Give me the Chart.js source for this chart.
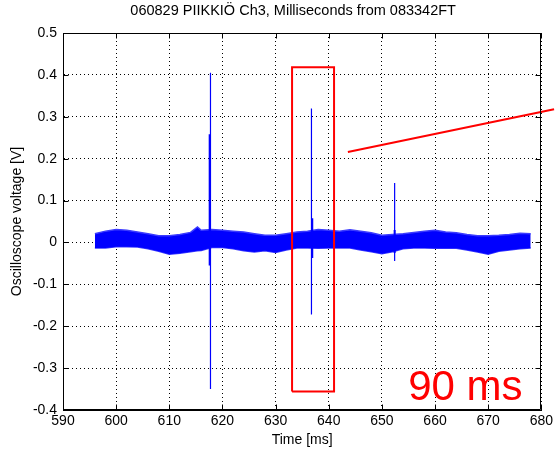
<!DOCTYPE html>
<html>
<head>
<meta charset="utf-8">
<script src="https://cdn.jsdelivr.net/npm/chart.js@4.4.0/dist/chart.umd.min.js"></script>
<style>
  html, body { margin: 0; padding: 0; background: #fff; }
  #wrap { width: 556px; height: 451px; }
</style>
</head>
<body>
<div id="wrap"><canvas id="myChart"></canvas></div>
<script>
// axis ticks
var xTicks = [590, 600, 610, 620, 630, 640, 650, 660, 670, 680];
var yTicks = [-0.4, -0.3, -0.2, -0.1, 0, 0.1, 0.2, 0.3, 0.4, 0.5];

var titleText = '060829 PIIKKIÖ Ch3, Milliseconds from 083342FT';

// noise band (upper / lower envelope), ms and V
var bandTime = [596, 598, 600, 602, 604, 606, 608, 610, 612, 614, 615.3, 616, 618, 620, 622, 624, 626, 628, 630, 632, 634, 636, 638, 640, 642, 644, 646, 648, 650, 652, 654, 656, 658, 660, 662, 664, 666, 668, 670, 672, 674, 676, 678];
var bandHigh = [0.021, 0.027, 0.031, 0.029, 0.025, 0.021, 0.016, 0.016, 0.019, 0.024, 0.037, 0.029, 0.031, 0.029, 0.027, 0.025, 0.021, 0.017, 0.017, 0.021, 0.025, 0.027, 0.031, 0.029, 0.027, 0.030, 0.027, 0.023, 0.017, 0.019, 0.021, 0.024, 0.027, 0.029, 0.025, 0.023, 0.019, 0.016, 0.016, 0.017, 0.019, 0.022, 0.021];
var bandLow = [-0.013, -0.013, -0.010, -0.010, -0.011, -0.015, -0.021, -0.028, -0.026, -0.022, -0.020, -0.019, -0.012, -0.012, -0.015, -0.020, -0.023, -0.020, -0.024, -0.018, -0.013, -0.013, -0.014, -0.013, -0.013, -0.013, -0.018, -0.022, -0.027, -0.022, -0.015, -0.013, -0.013, -0.014, -0.014, -0.014, -0.018, -0.023, -0.028, -0.021, -0.018, -0.015, -0.013];

// the discharge spikes
var spikeTime = [617.75, 636.75, 652.4];
var spikeHigh = [0.405, 0.32, 0.142];
var spikeLow = [-0.35, -0.172, -0.044];
var burstTime = [617.6, 636.9, 652.4];
var burstHigh = [0.258, 0.058, 0.03];
var burstLow = [-0.055, -0.037, -0.025];

// red marking
var boxTime = [633.1, 641.0];
var boxVolt = [-0.356, 0.418];
var pointerTime = [643.6, 682.4];
var pointerVolt = [0.216, 0.318];
var noteText = '90 ms';
var noteTime = 665.7;
var noteVolt = -0.376;

var FONT = "'Liberation Sans', Arial, sans-serif";
Chart.defaults.font.family = FONT;
Chart.defaults.font.size = 14;
Chart.defaults.color = '#000';

function pts(xs, ys) {
  return xs.map(function (x, i) { return {x: x, y: ys[i]}; });
}

var datasets = [];

// red box + pointer line, drawn on top
datasets.push({
  data: [
    {x: boxTime[0], y: boxVolt[0]}, {x: boxTime[0], y: boxVolt[1]},
    {x: boxTime[1], y: boxVolt[1]}, {x: boxTime[1], y: boxVolt[0]},
    {x: boxTime[0], y: boxVolt[0]}
  ],
  borderColor: '#ff0000', borderWidth: 2, pointRadius: 0, tension: 0, order: 0
});
datasets.push({
  data: pts(pointerTime, pointerVolt),
  borderColor: '#ff0000', borderWidth: 2, pointRadius: 0, clip: false, order: 0
});

// spikes
spikeTime.forEach(function (t, i) {
  datasets.push({
    data: [{x: t, y: spikeHigh[i]}, {x: t, y: spikeLow[i]}],
    borderColor: '#0000ff', borderWidth: 1.2, pointRadius: 0, order: 1
  });
  datasets.push({
    data: [{x: burstTime[i], y: burstHigh[i]}, {x: burstTime[i], y: burstLow[i]}],
    borderColor: '#0000ff', borderWidth: 2, pointRadius: 0, order: 1
  });
});

// noise band
datasets.push({
  data: pts(bandTime, bandHigh),
  borderColor: '#3a3aff', backgroundColor: '#0000ff', borderWidth: 1.5,
  pointRadius: 0, fill: '+1', order: 2
});
datasets.push({
  data: pts(bandTime, bandLow),
  borderColor: '#3a3aff', borderWidth: 1.5, pointRadius: 0, fill: false, order: 2
});

var matlabFrame = {
  id: 'matlabFrame',
  afterDatasetsDraw: function (chart) {
    var ctx = chart.ctx, xs = chart.scales.x, ys = chart.scales.y, a = chart.chartArea;
    ctx.save();
    ctx.fillStyle = '#ff0000';
    ctx.font = '42px ' + FONT;
    ctx.textAlign = 'center';
    ctx.textBaseline = 'alphabetic';
    ctx.fillText(noteText, xs.getPixelForValue(noteTime), ys.getPixelForValue(noteVolt));
    // title over the axes
    ctx.fillStyle = '#000';
    ctx.font = '14.5px ' + FONT;
    ctx.textBaseline = 'middle';
    ctx.fillText(titleText, (a.left + a.right) / 2 - 9, a.top - 22);
    ctx.restore();
  },
  afterDraw: function (chart) {
    var ctx = chart.ctx, a = chart.chartArea, xs = chart.scales.x, ys = chart.scales.y;
    var L = Math.round(a.left) + 0.5, R = Math.round(a.right) - 0.5;
    var T = Math.round(a.top) + 0.5, B = Math.round(a.bottom) - 0.5;
    ctx.save();
    ctx.strokeStyle = '#000';
    ctx.lineWidth = 1;
    ctx.beginPath();
    ctx.rect(L, T, R - L, B - T);
    xTicks.forEach(function (v) {
      var px = Math.round(xs.getPixelForValue(v)) + 0.5;
      ctx.moveTo(px, B); ctx.lineTo(px, B - 5);
      ctx.moveTo(px, T); ctx.lineTo(px, T + 5);
    });
    yTicks.forEach(function (v) {
      var py = Math.round(ys.getPixelForValue(v)) + 0.5;
      ctx.moveTo(L, py); ctx.lineTo(L + 5, py);
      ctx.moveTo(R, py); ctx.lineTo(R - 5, py);
    });
    ctx.stroke();
    ctx.restore();
  }
};

var ctx = document.getElementById('myChart').getContext('2d');
var myChart = new Chart(ctx, {
  type: 'line',
  data: { datasets: datasets },
  options: {
    responsive: true,
    maintainAspectRatio: false,
    animation: false,
    parsing: false,
    layout: { padding: { left: 0, right: 12, top: 33, bottom: 0 } },
    plugins: {
      legend: { display: false },
      tooltip: { enabled: false },
      title: { display: false }
    },
    scales: {
      x: {
        type: 'linear',
        min: 590, max: 680,
        afterBuildTicks: function (s) { s.ticks = xTicks.map(function (v) { return {value: v}; }); },
        afterFit: function (s) { s.height = 41; },
        ticks: { padding: 3, maxRotation: 0, autoSkip: false, callback: function (v) { return String(v); } },
        grid: { color: '#000', lineWidth: 1, drawTicks: false },
        border: { display: true, color: '#000', dash: [1, 3] },
        title: { display: true, text: 'Time [ms]', padding: { top: 0, bottom: 2 } }
      },
      y: {
        type: 'linear',
        min: -0.4, max: 0.5,
        afterBuildTicks: function (s) { s.ticks = yTicks.map(function (v) { return {value: v}; }); },
        afterFit: function (s) { s.width = 63; },
        ticks: { padding: 6, autoSkip: false, callback: function (v) { return String(Math.round(v * 10) / 10); } },
        grid: { color: '#000', lineWidth: 1, drawTicks: false },
        border: { display: true, color: '#000', dash: [1, 3] },
        title: { display: true, text: 'Oscilloscope voltage [V]', padding: { top: 9, bottom: 0 } }
      }
    }
  },
  plugins: [matlabFrame]
});
</script>
</body>
</html>
